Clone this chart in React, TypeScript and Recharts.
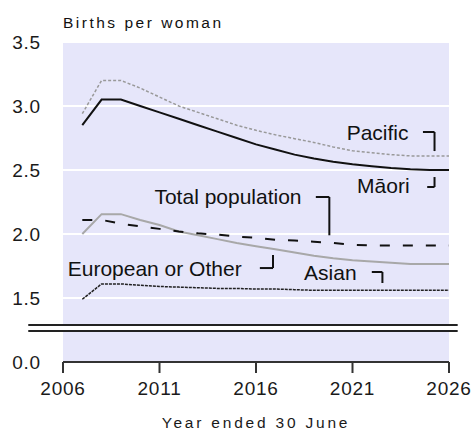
import { LineChart, Line, XAxis, YAxis, CartesianGrid, ReferenceLine, ReferenceDot, ReferenceArea } from 'recharts'

const years = [2007, 2008, 2009, 2010, 2011, 2012, 2013, 2014, 2015, 2016, 2017, 2018, 2019, 2020, 2021, 2022, 2023, 2024, 2025, 2026]
const pacific = [2.94, 3.2, 3.2, 3.14, 3.07, 3.0, 2.95, 2.9, 2.85, 2.81, 2.775, 2.745, 2.715, 2.68, 2.65, 2.635, 2.62, 2.61, 2.61, 2.61]
const maori = [2.85, 3.05, 3.05, 3.0, 2.95, 2.9, 2.85, 2.8, 2.75, 2.7, 2.66, 2.62, 2.59, 2.565, 2.545, 2.53, 2.515, 2.505, 2.5, 2.5]
const total = [2.11, 2.11, 2.08, 2.06, 2.04, 2.02, 2.005, 1.995, 1.98, 1.97, 1.955, 1.95, 1.94, 1.93, 1.915, 1.91, 1.91, 1.91, 1.91, 1.91]
const european = [2.0, 2.155, 2.155, 2.11, 2.07, 2.02, 1.99, 1.96, 1.93, 1.905, 1.88, 1.855, 1.83, 1.81, 1.795, 1.785, 1.775, 1.765, 1.765, 1.765]
const asian = [1.49, 1.61, 1.61, 1.6, 1.59, 1.585, 1.58, 1.575, 1.575, 1.57, 1.57, 1.565, 1.56, 1.56, 1.56, 1.56, 1.56, 1.56, 1.56, 1.56]

const xTicks = [2006, 2011, 2016, 2021, 2026]
const yTicks = [1, 1.5, 2, 2.5, 3, 3.5]

const data = years.map((year, i) => ({
  year,
  pacific: pacific[i],
  maori: maori[i],
  total: total[i],
  european: european[i],
  asian: asian[i],
}))

// series labels and their little leader lines, in data units
const labels = [
  { text: 'Pacific', x: 2022.3, y: 2.79 },
  { text: 'Māori', x: 2022.6, y: 2.375 },
  { text: 'Total population', x: 2014.55, y: 2.29 },
  { text: 'European or Other', x: 2010.75, y: 1.73 },
  { text: 'Asian', x: 2019.85, y: 1.7 },
]
const leaders: [number, number, number, number][] = [
  [2024.65, 2.797, 2025.25, 2.797],
  [2025.25, 2.797, 2025.25, 2.648],
  [2025.25, 2.445, 2025.25, 2.367],
  [2024.87, 2.367, 2025.25, 2.367],
  [2019.1, 2.289, 2019.8, 2.289],
  [2019.8, 2.289, 2019.8, 1.99],
  [2016.88, 1.836, 2016.88, 1.734],
  [2016.2, 1.734, 2016.88, 1.734],
  [2022.0, 1.703, 2022.55, 1.703],
  [2022.55, 1.703, 2022.55, 1.617],
]

const font = '"Liberation Sans", Arial, sans-serif'

export default function App() {
  return (
    <div style={{ position: 'absolute', left: 0, top: 0, width: 472, height: 430, background: '#fff', fontFamily: font }}>
      <div style={{ position: 'absolute', left: 63, top: 15, fontSize: 15.5, lineHeight: '15.5px', letterSpacing: 2.5, color: '#111', whiteSpace: 'nowrap' }}>
        Births per woman
      </div>
      <LineChart width={472} height={430} data={data} margin={{ top: 42, right: 23, bottom: 0, left: 0 }}>
        <CartesianGrid vertical={false} stroke="#fff" strokeWidth={2} fill="#e6e6fa" />
        <XAxis
          dataKey="year"
          type="number"
          domain={[2006, 2026]}
          ticks={xTicks}
          height={68}
          axisLine={{ stroke: '#333', strokeWidth: 2 }}
          tickLine={{ stroke: '#333', strokeWidth: 2 }}
          tickSize={11}
          tickMargin={9}
          tick={{ fill: '#1a1a1a', fontSize: 19, fontFamily: font, letterSpacing: 0.8 }}
          label={{ value: 'Year ended 30 June', position: 'insideBottom', offset: 2, fill: '#1a1a1a', fontSize: 15.5, fontFamily: font, letterSpacing: 2.8 }}
        />
        <YAxis
          type="number"
          domain={[1, 3.5]}
          ticks={yTicks}
          width={63}
          axisLine={false}
          tickLine={false}
          tickSize={0}
          tickMargin={22}
          tick={{ fill: '#1a1a1a', fontSize: 19, fontFamily: font, letterSpacing: 0.8 }}
          tickFormatter={v => (v === 1 ? '0.0' : v.toFixed(1))}
        />
        <ReferenceArea x1={2004.2} x2={2026.45} y1={1.242} y2={1.289} fill="#fff" fillOpacity={1} stroke="none" ifOverflow="visible" />
        <ReferenceLine segment={[{ x: 2004.2, y: 1.289 }, { x: 2026.45, y: 1.289 }]} stroke="#222" strokeWidth={2} ifOverflow="visible" />
        <ReferenceLine segment={[{ x: 2004.2, y: 1.242 }, { x: 2026.45, y: 1.242 }]} stroke="#222" strokeWidth={2} ifOverflow="visible" />
        <Line dataKey="pacific" stroke="#999" strokeWidth={1.5} strokeDasharray="3 2" dot={false} isAnimationActive={false} />
        <Line dataKey="maori" stroke="#111" strokeWidth={2} dot={false} isAnimationActive={false} />
        <Line dataKey="european" stroke="#a8a8a8" strokeWidth={2} dot={false} isAnimationActive={false} />
        <Line dataKey="total" stroke="#111" strokeWidth={2} strokeDasharray="10 13" dot={false} isAnimationActive={false} />
        <Line dataKey="asian" stroke="#222" strokeWidth={1.5} strokeDasharray="3 1" dot={false} isAnimationActive={false} />
        {leaders.map(([x1, y1, x2, y2], i) => (
          <ReferenceLine key={'l' + i} segment={[{ x: x1, y: y1 }, { x: x2, y: y2 }]} stroke="#111" strokeWidth={2} />
        ))}
        {labels.map(l => (
          <ReferenceDot
            key={l.text}
            x={l.x}
            y={l.y}
            r={0}
            stroke="none"
            fill="none"
            label={{ value: l.text, position: 'center', fill: '#111', fontSize: 21, fontFamily: font }}
          />
        ))}
      </LineChart>
    </div>
  )
}
